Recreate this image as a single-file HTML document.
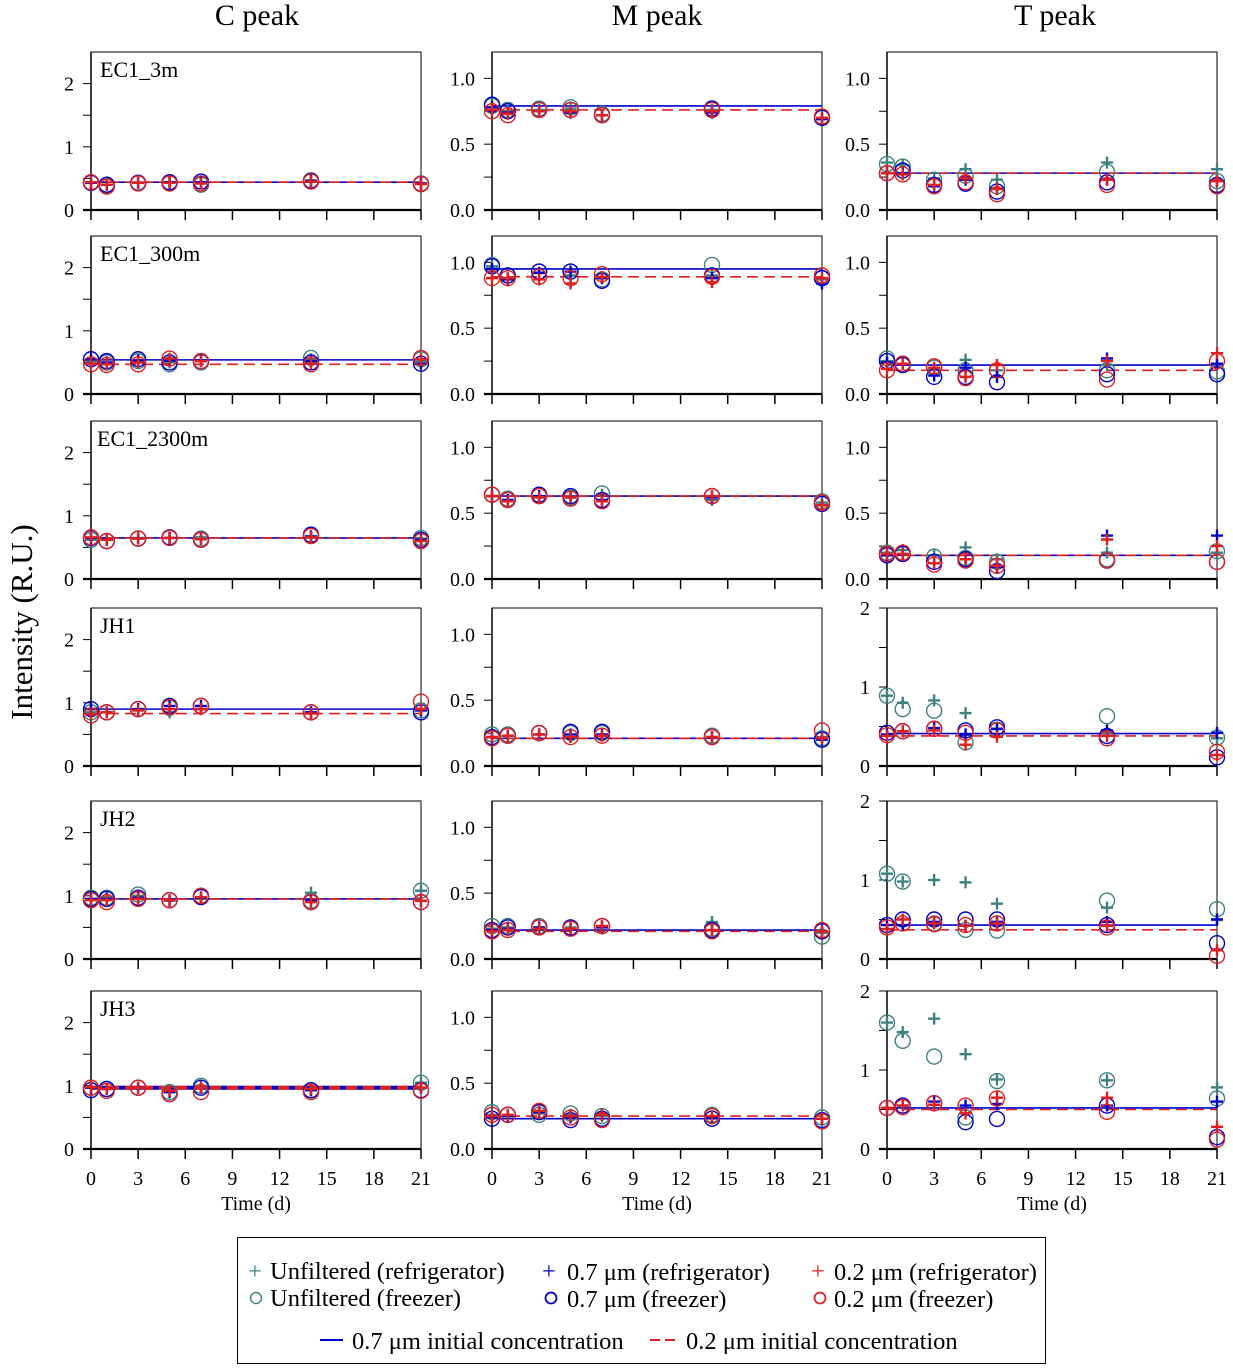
<!DOCTYPE html>
<html><head><meta charset="utf-8"><style>
html,body{margin:0;padding:0;background:#fff;}
svg{display:block;font-family:"Liberation Serif",serif;}
</style></head><body>
<svg id="chart" width="1233" height="1369" viewBox="0 0 1233 1369" xmlns="http://www.w3.org/2000/svg">
<text x="257" y="25" font-size="30" text-anchor="middle">C peak</text>
<text x="657" y="25" font-size="30" text-anchor="middle">M peak</text>
<text x="1055" y="25" font-size="30" text-anchor="middle">T peak</text>
<text transform="translate(32,622) rotate(-90)" font-size="31" text-anchor="middle">Intensity (R.U.)</text>
<g id="panels"></g>
<g>
<rect x="237.5" y="1237.5" width="808" height="126" fill="#fff" stroke="#000" stroke-width="1"/>
<g font-size="24.5">
<text x="248" y="1279" fill="#408080">+</text>
<text x="270" y="1279">Unfiltered (refrigerator)</text>
<circle cx="256" cy="1298" r="5.5" fill="none" stroke="#408080" stroke-width="1.5"/>
<text x="270" y="1306">Unfiltered (freezer)</text>
<text x="542" y="1279" fill="#0000cc">+</text>
<text x="567" y="1280">0.7 μm (refrigerator)</text>
<circle cx="551" cy="1298" r="5.5" fill="none" stroke="#0000cc" stroke-width="1.8"/>
<text x="567" y="1307">0.7 μm (freezer)</text>
<text x="811" y="1279" fill="#e02020">+</text>
<text x="834" y="1280">0.2 μm (refrigerator)</text>
<circle cx="820" cy="1298" r="5.5" fill="none" stroke="#e02020" stroke-width="1.8"/>
<text x="834" y="1307">0.2 μm (freezer)</text>
<line x1="320" y1="1340" x2="343" y2="1340" stroke="#0000cc" stroke-width="2"/>
<text x="352" y="1349">0.7 μm initial concentration</text>
<line x1="650" y1="1340" x2="678" y2="1340" stroke="#e02020" stroke-width="2" stroke-dasharray="10,5"/>
<text x="686" y="1349">0.2 μm initial concentration</text>
</g></g>
</svg>
<script>
const days = [0,1,3,5,7,14,21];
const panelLabels = ["EC1_3m","","","EC1_300m","","","EC1_2300m","","","JH1","","","JH2","","","JH3","",""];
const uRef = [
[.43,.40,.43,.43,.42,.47,.42],[.78,.75,.76,.77,.72,.76,.70],[.36,.34,.24,.31,.23,.36,.31],
[.52,.48,.50,.50,.52,.55,.52],[.97,.88,.92,.90,.88,.90,.87],[.25,.23,.19,.26,.18,.22,.22],
[.62,.62,.65,.65,.66,.68,.64],[.63,.60,.62,.62,.64,.60,.58],[.20,.22,.18,.24,.15,.20,.20],
[.85,.85,.88,.85,.90,.85,.88],[.22,.23,.24,.22,.23,.22,.22],[.89,.80,.83,.67,.47,.42,.35],
[.95,.98,1.0,.92,.95,1.05,1.08],[.23,.24,.24,.24,.25,.28,.20],[1.08,.98,1.00,.97,.70,.65,.50],
[.97,.95,.97,.90,1.0,.95,1.05],[.26,.25,.27,.26,.25,.25,.23],[1.60,1.48,1.65,1.20,.88,.87,.78]];
const uFrz = [
[.43,.38,.43,.43,.40,.47,.42],[.79,.76,.77,.78,.73,.77,.70],[.35,.33,.23,.26,.18,.29,.22],
[.55,.50,.52,.47,.50,.57,.55],[.98,.90,.93,.93,.87,.98,.88],[.27,.23,.20,.18,.18,.18,.17],
[.62,.60,.64,.65,.64,.70,.65],[.64,.61,.63,.62,.65,.63,.59],[.20,.19,.17,.16,.13,.15,.21],
[.85,.85,.90,.92,.95,.85,.88],[.24,.24,.25,.25,.25,.23,.21],[.89,.72,.70,.30,.46,.63,.36],
[.97,.97,1.02,.93,1.0,.92,1.08],[.25,.25,.25,.24,.25,.23,.17],[1.08,.98,.45,.37,.36,.74,.63],
[.97,.95,.97,.90,1.0,.93,1.05],[.28,.26,.26,.27,.25,.26,.24],[1.60,1.37,1.17,.40,.86,.87,.64]];
const bRef = [
[.43,.40,.43,.44,.44,.46,.42],[.78,.74,.75,.74,.72,.74,.69],[.28,.28,.18,.23,.16,.23,.22],
[.55,.50,.53,.53,.53,.52,.48],[.95,.87,.92,.93,.88,.88,.84],[.24,.23,.14,.20,.13,.27,.23],
[.65,.62,.64,.65,.63,.67,.62],[.63,.60,.63,.62,.60,.62,.56],[.18,.19,.12,.15,.09,.33,.33],
[.90,.85,.90,.95,.95,.85,.88],[.22,.23,.24,.24,.24,.22,.20],[.40,.44,.48,.40,.47,.45,.42],
[.95,.95,.97,.93,.97,.92,.92],[.22,.23,.24,.23,.24,.22,.21],[.43,.43,.47,.42,.47,.47,.50],
[.97,.95,.97,.90,.97,.93,.97],[.24,.25,.28,.24,.26,.24,.23],[.52,.55,.60,.55,.57,.55,.60]];
const bFrz = [
[.43,.40,.43,.44,.45,.46,.41],[.80,.75,.76,.76,.72,.77,.70],[.28,.30,.19,.20,.14,.21,.19],
[.55,.52,.55,.50,.52,.50,.48],[.97,.90,.93,.93,.86,.90,.88],[.25,.22,.13,.13,.09,.15,.15],
[.65,.60,.64,.66,.62,.70,.62],[.64,.60,.64,.63,.60,.63,.57],[.18,.19,.13,.15,.06,.14,.13],
[.90,.85,.90,.95,.95,.85,.85],[.22,.23,.25,.26,.26,.22,.20],[.42,.44,.47,.45,.49,.38,.11],
[.95,.95,.97,.93,.98,.90,.90],[.22,.24,.24,.24,.25,.22,.21],[.43,.50,.50,.50,.50,.43,.20],
[.93,.95,.97,.87,.97,.93,.93],[.23,.26,.28,.22,.23,.23,.22],[.52,.55,.58,.34,.38,.55,.15]];
const rRef = [
[.44,.40,.43,.43,.42,.45,.41],[.76,.73,.75,.75,.72,.75,.70],[.28,.27,.19,.24,.16,.23,.22],
[.48,.47,.50,.56,.52,.48,.55],[.88,.88,.87,.84,.89,.85,.88],[.19,.23,.20,.13,.22,.25,.31],
[.66,.62,.64,.65,.63,.66,.60],[.63,.59,.62,.62,.59,.63,.56],[.19,.19,.12,.15,.10,.30,.25],
[.82,.85,.88,.90,.90,.83,.90],[.22,.23,.24,.22,.23,.22,.21],[.38,.44,.45,.27,.37,.38,.14],
[.93,.93,.95,.93,.98,.90,.92],[.21,.22,.23,.23,.25,.22,.21],[.38,.50,.45,.42,.45,.42,.11],
[.98,.95,.97,.92,.97,.95,.97],[.25,.26,.29,.25,.26,.25,.23],[.52,.55,.56,.45,.65,.65,.28]];
const rFrz = [
[.44,.37,.42,.42,.42,.45,.41],[.75,.72,.76,.76,.72,.76,.71],[.28,.27,.18,.21,.12,.19,.18],
[.47,.46,.47,.56,.52,.47,.57],[.88,.88,.89,.88,.91,.89,.90],[.18,.23,.21,.12,.18,.11,.25],
[.66,.60,.64,.65,.62,.68,.60],[.64,.60,.63,.61,.59,.63,.58],[.19,.20,.11,.14,.10,.14,.13],
[.80,.85,.90,.93,.95,.85,1.02],[.21,.23,.25,.22,.23,.22,.27],[.39,.44,.47,.42,.45,.35,.18],
[.93,.90,.95,.93,1.0,.90,.90],[.21,.22,.24,.23,.25,.21,.22],[.40,.45,.44,.43,.45,.40,.04],
[.97,.92,.97,.87,.90,.90,.92],[.26,.26,.29,.24,.22,.25,.21],[.52,.53,.58,.55,.64,.47,.12]];
const init07 = [.44,.79,.28, .54,.95,.22, .65,.63,.18, .90,.21,.41, .95,.22,.43, .97,.23,.52];
const init02 = [.44,.76,.28, .47,.89,.18, .65,.63,.18, .83,.21,.38, .95,.21,.37, .97,.25,.50];
const xTickLabels = ["0","3","6","9","12","15","18","21"];

const NS="http://www.w3.org/2000/svg";
const colLeft=[91,492,887], PW=330, PH=158;
const rowTop=[52,236,421,608,801,991];
const TEAL="#408080", BLUE="#0000cc", RED="#e02020";
const root=document.getElementById('panels');
function mk(tag,attrs,parent){const e=document.createElementNS(NS,tag);for(const k in attrs)e.setAttribute(k,attrs[k]);parent.appendChild(e);return e;}
function axisCfg(r,c){
  if(c===0) return {max:2.5,ticks:[0,1,2],minor:[0.5,1.5],fmt:v=>String(v)};
  if(c===2&&r>=3) return {max:2,ticks:[0,1,2],minor:[0.5,1.5],fmt:v=>String(v)};
  return {max:1.2,ticks:[0,0.5,1.0],minor:[0.25,0.75],fmt:v=>v.toFixed(1)};
}
for(let r=0;r<6;r++)for(let c=0;c<3;c++){
  const i=r*3+c, L=colLeft[c], T=rowTop[r], B=T+PH, R=L+PW;
  const cfg=axisCfg(r,c);
  const xs=d=>L+d/21*PW, ys=v=>B-v/cfg.max*PH;
  const g=mk('g',{},root);
  
  
  mk('rect',{x:L,y:T,width:PW,height:PH,fill:'none',stroke:'#000','stroke-width':1},g);
  mk('line',{x1:L-8,y1:B,x2:R,y2:B,stroke:'#000','stroke-width':2.2},g);
  mk('line',{x1:L,y1:T,x2:L,y2:B+1,stroke:'#000','stroke-width':1.5},g);
  cfg.ticks.forEach(v=>{
    mk('line',{x1:L-8,y1:ys(v),x2:L,y2:ys(v),stroke:'#000','stroke-width':1},g);
    const t=mk('text',{x:L-17,y:ys(v)+7,'font-size':20,'text-anchor':'end'},g);
    
    
    t.textContent=cfg.fmt(v);
  });
  cfg.minor.forEach(v=>mk('line',{x1:L-8,y1:ys(v),x2:L,y2:ys(v),stroke:'#000','stroke-width':1},g));
  xTickLabels.forEach(lb=>{
    const d=+lb;
    mk('line',{x1:xs(d),y1:B,x2:xs(d),y2:B+10,stroke:'#000','stroke-width':1.5},g);
    if(r===5){
      const t=mk('text',{x:xs(d),y:B+36,'font-size':20,'text-anchor':'middle'},g);
      
      
      t.textContent=lb;
    }
  });
  if(r===5){
    const t=mk('text',{x:L+165,y:B+61,'font-size':20,'text-anchor':'middle'},g);
    
    
    t.textContent='Time (d)';
  }
  if(panelLabels[i]){
    const t=mk('text',{x:L+(r===2?6:9),y:T+25,'font-size':22},g);
    
    
    t.textContent=panelLabels[i];
  }
  const l1=mk('line',{x1:L,y1:ys(init07[i]),x2:R,y2:ys(init07[i]),stroke:BLUE,'stroke-width':r===5&&c===0?4:1.6},g);
  
  
  const l2=mk('line',{x1:L,y1:ys(init02[i]),x2:R,y2:ys(init02[i]),stroke:RED,'stroke-width':r===5&&c===0?4:1.6,'stroke-dasharray':'11,6'},g);
  
  
  const series=[[uFrz,TEAL,'o','unfiltered-freezer'],[uRef,TEAL,'+','unfiltered-ref'],[bFrz,BLUE,'o','07-freezer'],[bRef,BLUE,'+','07-ref'],[rFrz,RED,'o','02-freezer'],[rRef,RED,'+','02-ref']];
  series.forEach(([arr,col,sh,nm])=>{
    arr[i].forEach((v,k)=>{
      const x=xs(days[k]), y=ys(v);
      let m;
      if(sh==='o'){
        m=mk('circle',{cx:x,cy:y,r:7.5,fill:'none',stroke:col,'stroke-width':1.4},g);
      } else {
        m=mk('path',{d:`M${x-6},${y}H${x+6}M${x},${y-6}V${y+6}`,stroke:col,'stroke-width':2.4,fill:'none'},g);
      }
      
      
    });
  });
}
</script>
</body></html>
